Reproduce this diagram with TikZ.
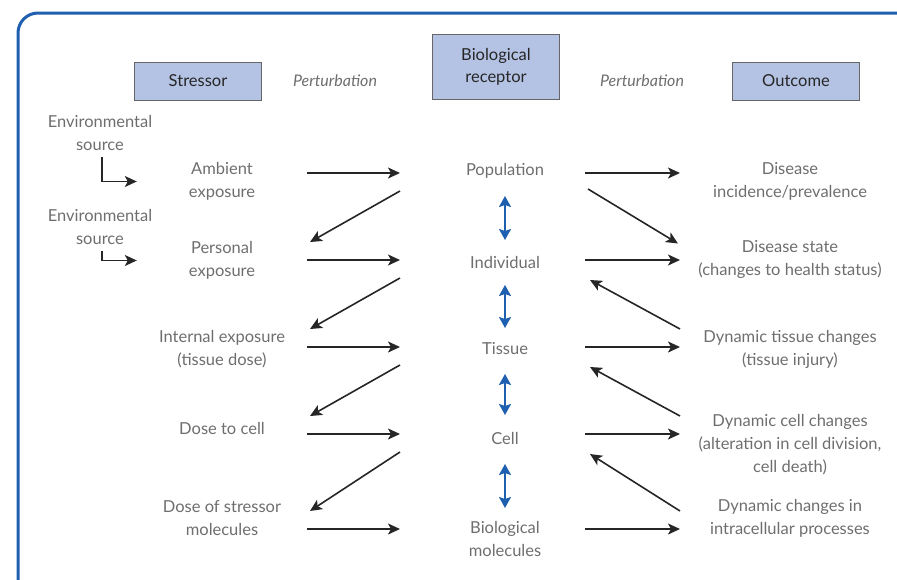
\documentclass[tikz,border=0pt]{standalone}
\usepackage{fontspec}
\setmainfont{Lato}
\usetikzlibrary{arrows.meta}
\definecolor{boxblue}{HTML}{B4C3E4}
\definecolor{frameblue}{HTML}{1F5FAF}
\definecolor{txtgray}{HTML}{6E6E6E}
\tikzset{
  hdr/.style={draw=black!60, line width=0.9pt, fill=boxblue, minimum width=127pt, minimum height=38pt,
    align=center, text=black!85, font=\fontsize{16.5}{22}\selectfont},
  lbl/.style={align=center, text=txtgray, font=\fontsize{16.5}{23}\selectfont},
  pert/.style={text=txtgray, font=\fontsize{16}{20}\selectfont\itshape},
  arr/.style={-{Stealth[length=12pt,width=11pt,inset=3pt]}, line width=1.6pt, black!85},
  dbl/.style={{Stealth[length=11pt,width=12pt,inset=2pt]}-{Stealth[length=11pt,width=12pt,inset=2pt]},
    frameblue, line width=2pt},
}

\begin{document}
\begin{tikzpicture}[x=1pt, y=-1pt]
	\useasboundingbox (0,0) rectangle (897,579);
	\begin{scope}
		\clip (0,0) rectangle (897,579);
		\draw[frameblue, line width=3pt, rounded corners=20pt] (18,13) rectangle (960,598);
	\end{scope}
	% column heads
	\node[hdr](stressor) at (198,81){Stressor};
	\node[hdr, minimum height=65pt](receptor) at (496,67){Biological\\receptor};
	\node[hdr](outcome) at (796,81){Outcome};
	\node[pert](pertA) at (335,81){Perturbation};
	\node[pert](pertB) at (642,81){Perturbation};
	% stressor side
	\node[lbl](envA) at (100,133){Environmental\\source};
	\node[lbl](envB) at (100,227){Environmental\\source};
	\node[lbl, minimum width=170pt](amb) at (222,181.5){Ambient\\exposure};
	\node[lbl, minimum width=170pt](pers) at (222,260.5){Personal\\exposure};
	\node[lbl](intern) at (222,349.5){Internal exposure\\(tissue dose)};
	\node[lbl](dcell) at (222,428.5){Dose to cell};
	\node[lbl](dmol) at (222,518.5){Dose of stressor\\molecules};
	% receptor
	\node[lbl](pop) at (505,171){Population};
	\node[lbl](indiv) at (505,262){Individual};
	\node[lbl](tissue) at (505,349){Tissue};
	\node[lbl](cell) at (505,438){Cell};
	\node[lbl](biomol) at (505,539){Biological\\molecules};
	% outcome side
	\node[lbl](inc) at (790,181.5){Disease\\incidence/prevalence};
	\node[lbl](state) at (790,259.5){Disease state\\(changes to health status)};
	\node[lbl](tischg) at (790,349.5){Dynamic tissue changes\\(tissue injury)};
	\node[lbl](cellchg) at (790,445){Dynamic cell changes\\(alteration in cell division,\\cell death)};
	\node[lbl](intra) at (790,518.5){Dynamic changes in\\intracellular processes};
	% arrow ends, one row per level
	\foreach \r/\y in {1/173,2/260,3/347,4/434,5/529}{
		\coordinate(la\r) at (307,\y);
		\coordinate(lb\r) at (400,\y);
		\coordinate(ra\r) at (585,\y);
		\coordinate(rb\r) at (680,\y);
	}
	\draw[arr](envA.south) ++(2pt,-3pt) |- (amb.west);
	\draw[arr](envB.south) ++(2pt,-3pt) |- (pers.west);
	\foreach \r in {1,...,5}{
		\draw[arr](la\r) -- (lb\r);
		\draw[arr](ra\r) -- (rb\r);
	}
	\foreach \r/\s in {1/2,2/3,3/4,4/5}{
		\draw[arr]([yshift=-18pt]lb\r) -- ([xshift=3pt,yshift=18pt]la\s);
	}
	\draw[arr]([xshift=3pt,yshift=-16pt]ra1) -- ([xshift=-2pt,yshift=16.5pt]rb2);
	\foreach \r/\s in {2/3,3/4,4/5}{
		\draw[arr]([yshift=18pt]rb\s) -- ([xshift=5pt,yshift=-20pt]ra\r);
	}
	% levels of organisation
	\foreach \a/\b/\p/\q in {pop/indiv/25/22,indiv/tissue/23/21,tissue/cell/25/23,cell/biomol/26/31}{
		\draw[dbl]([yshift=-\p pt]\a.center) -- ([yshift=\q pt]\b.center);
	}
\end{tikzpicture}
\end{document}
